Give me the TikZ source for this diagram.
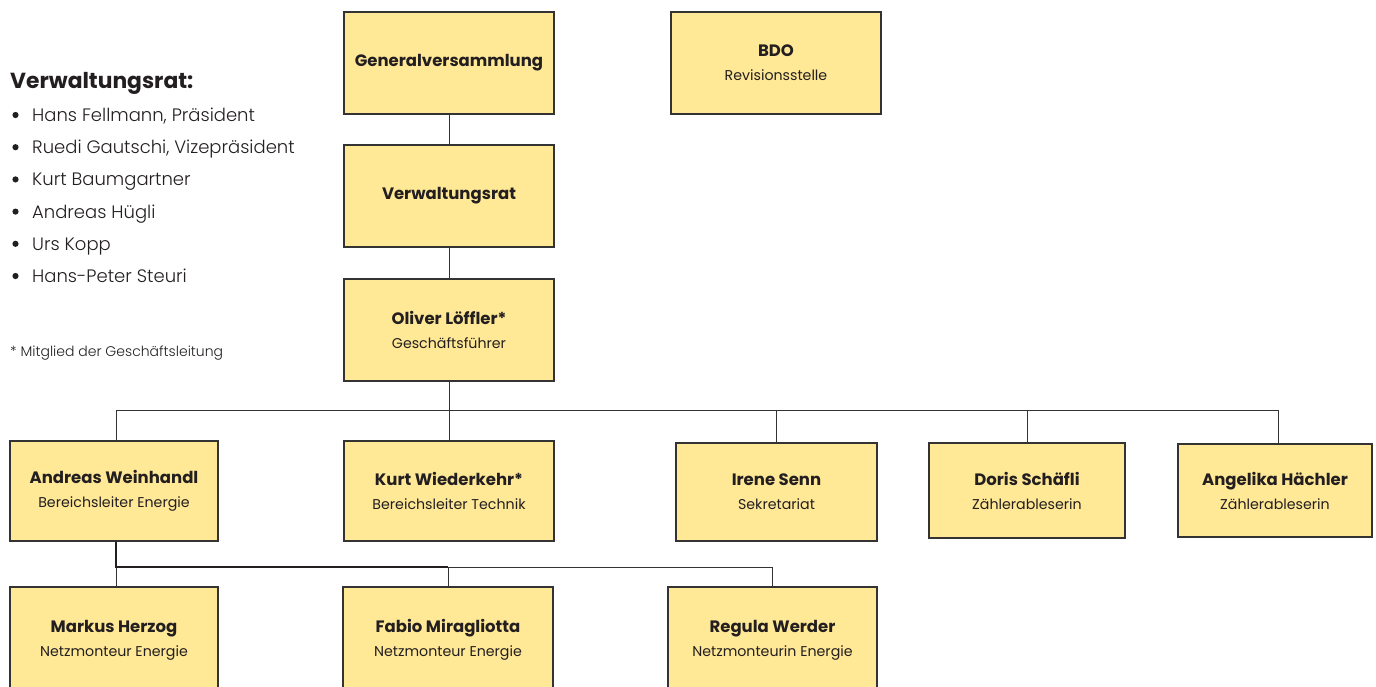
\documentclass[tikz,border=0pt]{standalone}
\usepackage{fontspec}
\setmainfont{Poppins}
\newfontfamily\lightfont{Poppins Light}
\definecolor{boxy}{HTML}{FFE896}
\definecolor{linec}{HTML}{333333}
\definecolor{txt}{HTML}{231F20}
\newcommand{\nm}[1]{{\fontsize{16.5}{24}\selectfont\bfseries #1}}
\begin{document}
\begin{tikzpicture}[x=1pt,y=-1pt,
  box/.style={draw=linec, fill=boxy, line width=1.1pt, inner sep=0pt,
    align=center, text=txt, font=\fontsize{14.2}{24}\selectfont},
  conn/.style={draw=linec, line width=0.9pt},
  thickconn/.style={draw=txt, line width=1.5pt},
  lefttxt/.style={anchor=base west, inner sep=0pt, text=txt}]
\useasboundingbox (0,0) rectangle (1376,686);
\clip (0,0) rectangle (1376,686);
% top boxes
\node[box, minimum width=210pt, minimum height=102pt] (gv) at (449,63) {\nm{Generalversammlung}};
\node[box, minimum width=210pt, minimum height=102pt] (bdo) at (776,63) {\nm{BDO}\\Revisionsstelle};
\node[box, minimum width=210pt, minimum height=102pt] (vr) at (449,196) {\nm{Verwaltungsrat}};
\node[box, minimum width=210pt, minimum height=102pt] (ol) at (449,330) {\nm{Oliver Löffler*}\\Geschäftsführer};
% second row
\node[box, minimum width=208pt, minimum height=100pt] (aw) at (114,491) {\nm{Andreas Weinhandl}\\Bereichsleiter Energie};
\node[box, minimum width=210pt, minimum height=100pt] (kw) at (449,491) {\nm{Kurt Wiederkehr*}\\Bereichsleiter Technik};
\node[box, minimum width=201pt, minimum height=98pt] (is) at (776.5,492) {\nm{Irene Senn}\\Sekretariat};
\node[box, minimum width=196pt, minimum height=95pt] (ds) at (1027,490.5) {\nm{Doris Schäfli}\\Zählerableserin};
\node[box, minimum width=194pt, minimum height=93pt] (ah) at (1275,490.5) {\nm{Angelika Hächler}\\Zählerableserin};
% third row
\node[box, minimum width=208pt, minimum height=106pt] (mh) at (114,640) {\nm{Markus Herzog}\\Netzmonteur Energie};
\node[box, minimum width=210pt, minimum height=106pt] (fm) at (448,640) {\nm{Fabio Miragliotta}\\Netzmonteur Energie};
\node[box, minimum width=209pt, minimum height=106pt] (rw) at (772.5,640) {\nm{Regula Werder}\\Netzmonteurin Energie};
% connectors
\coordinate (bus1) at (449,410);
\coordinate (bl) at (116,410);
\coordinate (br) at (1278,410);
\coordinate (bus2) at (116,567);
\draw[conn] (gv.south) -- (vr.north);
\draw[conn] (vr.south) -- (ol.north);
\draw[conn] (ol.south) -- (bus1);
\draw[conn] (bl |- aw.north) -- (bl) -- (br) -- (br |- ah.north);
\draw[conn] (bus1) -- (kw.north);
\draw[conn] (is.north) -- (is.north |- bus1);
\draw[conn] (ds.north) -- (ds.north |- bus1);
\draw[conn] (bus2) -- (bus2 |- mh.north);
\draw[conn] (fm.north |- bus2) -| (rw.north);
\draw[thickconn] (bus2 |- aw.south) -- (bus2) -- (fm.north |- bus2);
\draw[conn] (fm.north |- bus2) -- (fm.north);
% left text
\node[lefttxt, font=\fontsize{21.8}{22}\selectfont\bfseries] (vrt) at (10,88) {Verwaltungsrat:};
\foreach \t [count=\i] in {{Hans Fellmann, Präsident},{Ruedi Gautschi, Vizepräsident},{Kurt Baumgartner},{Andreas Hügli},{Urs Kopp},{Hans-Peter Steuri}}{
  \fill[txt] (15.5,{115+(\i-1)*32.2}) circle (3.1pt);
  \node[lefttxt, font=\lightfont\fontsize{18}{20}\selectfont] (li\i) at (32,{121.5+(\i-1)*32.2}) {\t};
}
\node[lefttxt, font=\lightfont\fontsize{14}{15}\selectfont] (fn) at (10,356) {* Mitglied der Geschäftsleitung};
\end{tikzpicture}
\end{document}
